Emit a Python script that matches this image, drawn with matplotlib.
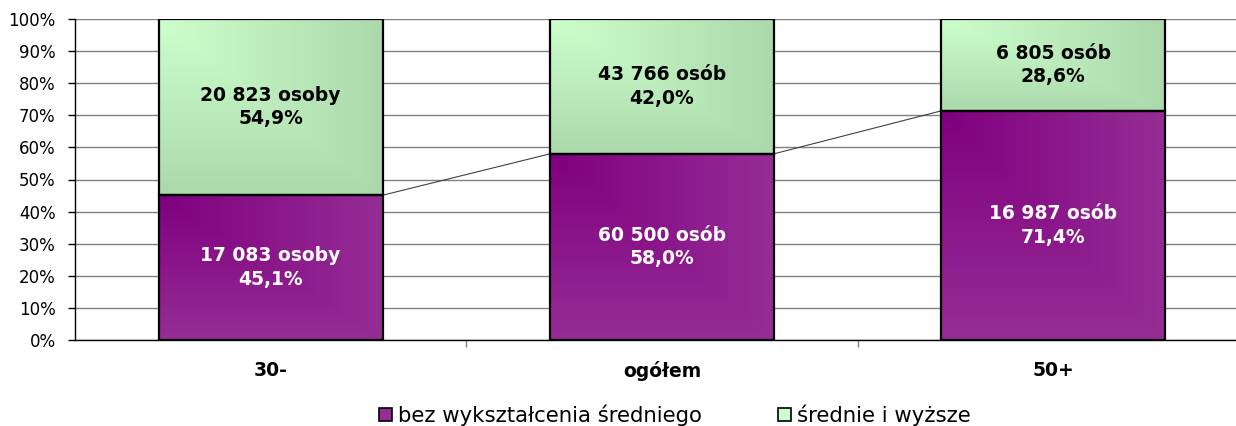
import matplotlib.pyplot as plt
import numpy as np
from matplotlib.patches import Patch
from matplotlib.colors import to_rgb

# data
categories = ['30-', 'ogółem', '50+']
bez_pct = [45.1, 58.0, 71.4]
bez_cnt = [17083, 60500, 16987]
bez_word = ['osoby', 'osób', 'osób']
sr_pct = [54.9, 42.0, 28.6]
sr_cnt = [20823, 43766, 6805]
sr_word = ['osoby', 'osób', 'osób']
legend_labels = ['bez wykształcenia średniego', 'średnie i wyższe']

purple = ('#800080', '#952d95')
green = ('#ccffcc', '#acd9ac')

plt.rcParams['font.family'] = 'DejaVu Sans'

fig = plt.figure(figsize=(12.36, 4.26), dpi=100)
ax = fig.add_axes([75/1236, 1-340/426, 1174/1236, 321/426])

x = np.arange(len(categories))
w = 0.572


def grad_fill(ax, bar, cols):
    # excel-like "from corner" gradient, clipped to bar
    x0, y0 = bar.get_x(), bar.get_y()
    bw, bh = bar.get_width(), bar.get_height()
    n = 64
    u = np.linspace(0, 1, n)
    U, V = np.meshgrid(u, u)
    t = np.maximum(U, V)
    c0 = np.array(to_rgb(cols[0]))
    c1 = np.array(to_rgb(cols[1]))
    img = c0 + (c1 - c0) * t[..., None]
    im = ax.imshow(img, extent=(x0, x0+bw, y0, y0+bh), aspect='auto',
                   origin='upper', zorder=2, interpolation='bilinear')
    im.set_clip_path(bar)


def fmt_num(n):
    return f'{n:,}'.replace(',', ' ')


bars1 = ax.bar(x, bez_pct, w, facecolor='none', edgecolor='black', lw=1.6, zorder=3)
bars2 = ax.bar(x, sr_pct, w, bottom=bez_pct, facecolor='none', edgecolor='black', lw=1.6, zorder=3)
for b in bars1:
    grad_fill(ax, b, purple)
for b in bars2:
    grad_fill(ax, b, green)

# series lines between bars
for i in range(len(categories)-1):
    ax.plot([x[i]+w/2, x[i+1]-w/2], [bez_pct[i], bez_pct[i+1]],
            color='#404040', lw=0.8, zorder=1)

for i in range(len(categories)):
    ax.text(x[i], bez_pct[i]/2, f'{fmt_num(bez_cnt[i])} {bez_word[i]}\n{bez_pct[i]:.1f}%'.replace('.', ','),
            ha='center', va='center', color='white', fontsize=13.5, fontweight='bold',
            linespacing=1.3, zorder=4)
    ax.text(x[i], bez_pct[i]+sr_pct[i]/2, f'{fmt_num(sr_cnt[i])} {sr_word[i]}\n{sr_pct[i]:.1f}%'.replace('.', ','),
            ha='center', va='center', color='black', fontsize=13.5, fontweight='bold',
            linespacing=1.3, zorder=4)

ax.set_xlim(-0.5, 2.5)
ax.set_ylim(0, 100)
ax.set_yticks(np.arange(0, 101, 10))
ax.set_yticklabels([f'{v}%' for v in range(0, 101, 10)], fontsize=12)
ax.yaxis.grid(True, color='#808080', lw=1)
ax.set_axisbelow(True)
ax.tick_params(axis='y', length=5, width=1, pad=9)

ax.set_xticks(x)
ax.set_xticklabels(categories, fontsize=13.5, fontweight='bold')
ax.set_xticks([0.5, 1.5], minor=True)
ax.tick_params(axis='x', which='major', length=0, pad=15)
ax.tick_params(axis='x', which='minor', length=5, width=1, color='#808080')

for s in ['top', 'right']:
    ax.spines[s].set_visible(False)
ax.spines['left'].set_linewidth(1)
ax.spines['bottom'].set_linewidth(1)

handles = [Patch(facecolor='#952d95', edgecolor='black', lw=1.2),
           Patch(facecolor='#ccffcc', edgecolor='black', lw=1.2)]
fig.legend(handles, legend_labels, loc='center', bbox_to_anchor=(675/1236, 1-415/426),
           ncol=2, frameon=False, fontsize=15.3, handlelength=0.6, handleheight=0.6,
           handletextpad=0.3, columnspacing=3.6, borderaxespad=0, borderpad=0)

fig.savefig('out.png', dpi=100)
